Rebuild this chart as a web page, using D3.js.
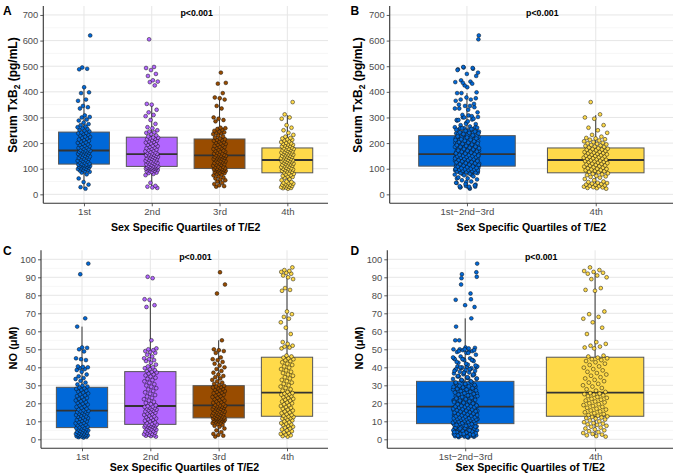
<!DOCTYPE html>
<html><head><meta charset="utf-8">
<script src="https://cdn.jsdelivr.net/npm/d3@7"></script>
<style>
html,body{margin:0;padding:0;background:#fff;}
svg{display:block;font-family:"Liberation Sans",Arial,Helvetica,sans-serif;}
</style></head>
<body>
<svg id="chart" width="676" height="476"></svg>
<script>
// ---------------- DATA ----------------
const quartileCats = ["1st", "2nd", "3rd", "4th"];
const mergedCats = ["1st\u22122nd\u22123rd", "4th"];

// Serum TxB2 (pg/mL) by sex-specific quartile of T/E2
const txb2Q1 = [22,28,38,48,62,78,85,88,90,93,95,97,99,100,102,104,105,107,108,110,111,112,113,114,115,116,117,
  119,120,124,125,128,130,131,134,136,139,140,142,145,146,148,150,152,155,156,158,160,161,163,165,166,168,169,170,
  172,173,176,178,181,183,184,188,190,193,195,198,201,203,206,209,212,214,218,221,224,226,230,233,236,238,240,242,
  246,249,252,255,258,262,265,270,274,280,288,292,300,302,308,335,340,345,365,370,395,398,418,488,490,495,620];
const txb2Q2 = [25,27,30,33,45,75,80,83,85,88,90,92,94,95,97,98,99,100,101,102,103,104,105,106,107,108,108,
  110,112,113,115,117,119,120,122,124,126,128,129,131,133,135,137,139,140,142,144,146,147,149,150,152,153,155,156,
  158,160,162,164,166,168,171,173,175,178,180,183,185,188,190,193,196,199,202,205,207,210,212,215,217,219,221,222,
  226,230,235,240,242,245,250,258,262,275,290,305,310,320,330,350,353,425,438,440,445,462,470,485,493,497,605];
const txb2Q3 = [30,32,35,40,45,50,55,58,62,66,70,74,77,80,83,85,87,89,91,92,94,95,96,97,98,99,100,
  102,103,106,108,109,112,115,116,118,121,122,125,126,129,130,133,134,137,138,140,141,143,145,146,148,149,150,151,
  153,154,157,159,160,163,166,167,170,171,175,177,180,182,185,186,189,192,194,197,199,202,204,207,209,212,213,215,
  218,222,226,230,235,238,240,242,245,248,252,255,258,260,285,290,295,300,335,345,370,375,378,395,432,435,475];
const txb2Q4 = [22,24,25,27,28,30,32,33,35,37,38,40,42,44,45,48,50,55,60,65,68,70,72,75,78,80,82,
  86,88,90,92,94,95,97,99,100,102,104,106,108,110,112,113,115,117,119,120,122,124,126,127,129,130,132,133,
  135,137,138,140,141,143,145,146,148,150,151,153,155,156,158,160,161,163,165,166,168,170,172,174,175,177,178,180,
  183,185,187,189,191,193,195,197,199,201,204,207,210,213,215,218,220,225,232,240,250,260,270,295,300,312,360];

// NO (µM) by sex-specific quartile of T/E2
const noQ1 = [1.0,1.2,1.4,1.5,1.7,1.9,2.0,2.2,2.4,2.5,2.7,2.9,3.0,3.3,3.5,3.7,4.0,4.2,4.5,4.7,5.0,5.2,5.5,5.7,6.0,6.2,6.4,
  6.7,7.0,7.4,7.8,8.1,8.5,8.9,9.2,9.6,10.0,10.3,10.7,11.0,11.4,11.8,12.1,12.5,12.8,13.2,13.5,13.9,14.2,14.5,14.8,15.1,15.4,15.6,15.8,
  16.2,16.6,17.0,17.5,18.0,18.4,18.9,19.3,19.8,20.2,20.7,21.2,21.6,22.1,22.6,23.0,23.5,24.0,24.5,25.0,25.5,26.0,26.5,27.0,27.5,28.0,28.4,28.8,
  29.3,29.8,30.5,31.5,32.5,33.5,34.0,35.0,36.0,37.5,38.5,39.0,39.5,40.0,40.2,40.5,44.0,44.5,45.0,48.8,50.0,50.8,51.0,62.6,67.2,91.7,97.6];
const noQ2 = [1.5,1.8,2.0,2.3,2.5,2.8,3.0,3.4,3.7,4.0,4.3,4.6,5.0,5.3,5.6,5.9,6.2,6.5,6.8,7.0,7.2,7.4,7.6,7.8,8.0,8.1,8.2,
  8.6,9.0,9.4,9.9,10.3,10.8,11.2,11.6,12.0,12.4,12.8,13.2,13.6,14.0,14.4,14.8,15.2,15.5,15.9,16.2,16.5,16.8,17.1,17.4,17.7,18.0,18.2,18.4,
  18.9,19.5,20.2,20.8,21.5,22.3,23.0,23.8,24.6,25.3,26.1,26.9,27.7,28.4,29.2,29.9,30.6,31.4,32.2,32.9,33.6,34.2,34.9,35.5,36.1,36.6,37.1,37.5,
  38.0,38.5,39.0,39.5,40.0,40.5,41.5,42.5,43.5,44.0,44.5,45.0,46.0,47.0,48.0,48.5,49.0,49.5,50.0,50.5,55.0,73.5,74.5,77.5,77.8,89.5,90.3];
const noQ3 = [1.5,2.0,2.5,3.0,4.0,5.0,6.0,7.0,7.5,8.0,8.5,9.0,9.3,9.6,9.9,10.1,10.3,10.5,10.7,10.9,11.0,11.2,11.3,11.5,11.6,11.7,11.8,
  12.1,12.3,12.6,12.8,13.0,13.3,13.5,13.8,14.0,14.3,14.6,14.8,15.1,15.4,15.6,15.9,16.2,16.5,16.8,17.0,17.3,17.6,17.8,18.0,18.2,18.4,18.6,18.8,
  19.1,19.5,19.9,20.3,20.7,21.1,21.5,21.9,22.3,22.7,23.1,23.5,24.0,24.4,24.8,25.2,25.6,26.0,26.4,26.8,27.2,27.6,28.0,28.4,28.8,29.1,29.4,29.7,
  30.2,30.8,31.5,32.2,33.0,33.8,34.5,35.2,36.0,37.0,38.0,39.0,40.0,41.0,42.0,43.0,44.0,44.5,45.5,48.0,49.0,49.5,50.0,55.0,81.0,86.0,92.8];
const noQ4 = [1.5,1.8,2.2,2.6,3.0,3.5,4.0,4.5,5.0,5.5,6.0,6.5,7.0,7.5,8.0,8.3,8.7,9.0,9.5,10.0,10.5,11.0,11.5,11.8,12.1,12.4,12.7,
  13.1,13.5,14.0,14.5,15.0,15.5,16.0,16.5,17.0,17.5,18.0,18.5,19.0,19.5,20.0,20.5,21.0,21.5,22.0,22.5,23.0,23.5,24.0,24.4,24.8,25.1,25.4,25.7,
  26.3,27.0,27.8,28.5,29.3,30.0,30.8,31.5,32.3,33.0,33.8,34.5,35.3,36.0,36.8,37.5,38.3,39.0,39.8,40.5,41.3,42.0,42.8,43.5,44.0,44.5,45.0,45.4,
  46.0,46.5,50.5,51.0,51.5,52.0,53.0,54.0,58.5,62.0,65.0,67.0,68.0,69.5,71.0,82.5,83.0,84.0,89.0,90.0,91.0,92.0,92.5,93.0,93.5,94.0,95.5];

// Box statistics: [lower whisker, Q1, median, Q3, upper whisker]
const txb2Stats4 = [[22,118,171,243,418],[25,109,157,223,353],[30,101,152,216,375],[22,84,134,181,309]];
const txb2Stats2 = [[22,110,157,229,395],[22,84,134,181,309]];
const noStats4 = [[1.0,6.5,15.9,28.9,62.6],[1.5,8.3,18.5,37.6,77.8],[1.5,11.9,18.9,29.8,55.0],[1.5,12.8,25.9,45.6,91.0]];
const noStats2 = [[1.0,8.7,18.1,32.2,67.2],[1.5,12.8,25.9,45.6,93.0]];

const txb2Ticks = [0,100,200,300,400,500,600,700];
const noTicks = [0,10,20,30,40,50,60,70,80,90,100];
const pLabel = "p<0.001";
const xTitle = "Sex Specific Quartiles of T/E2";

// ---------------- STYLE ----------------
const C_BLUE = "#0068D8", C_PURPLE = "#B266FF", C_BROWN = "#994C00", C_YELLOW = "#FFDA4A";

const panels = [
  {label:"A", x0:43.3, x1:328, y0:6, y1:203.3, dom:[-35,735], ticks:txb2Ticks, minorStep:50,
   cats:quartileCats, groups:[txb2Q1,txb2Q2,txb2Q3,txb2Q4], stats:txb2Stats4,
   colors:[C_BLUE,C_PURPLE,C_BROWN,C_YELLOW], yt:"txb", ytx:13, ytc:95, xto:27.2, lx:3, ly:15},
  {label:"B", x0:389.7, x1:673, y0:6, y1:203.3, dom:[-35,735], ticks:txb2Ticks, minorStep:50,
   cats:mergedCats, groups:[txb2Q1.concat(txb2Q2, txb2Q3), txb2Q4], stats:txb2Stats2,
   colors:[C_BLUE,C_YELLOW], yt:"txb", ytx:358, ytc:95, xto:27.2, lx:350.5, ly:15},
  {label:"C", x0:41, x1:328, y0:250.3, y1:448.3, dom:[-5,105], ticks:noTicks, minorStep:5,
   cats:quartileCats, groups:[noQ1,noQ2,noQ3,noQ4], stats:noStats4,
   colors:[C_BLUE,C_PURPLE,C_BROWN,C_YELLOW], yt:"no", ytx:13, ytc:348, xto:22.4, lx:3, ly:254.5},
  {label:"D", x0:387.3, x1:673, y0:250.3, y1:448.3, dom:[-5,105], ticks:noTicks, minorStep:5,
   cats:mergedCats, groups:[noQ1.concat(noQ2, noQ3), noQ4], stats:noStats2,
   colors:[C_BLUE,C_YELLOW], yt:"no", ytx:358.5, ytc:348, xto:22.4, lx:350.5, ly:254.5}
];

const svg = d3.select("#chart");

panels.forEach(p => {
  const g = svg.append("g");
  const y = d3.scaleLinear().domain(p.dom).range([p.y1, p.y0]);
  const x = d3.scalePoint().domain(p.cats).range([p.x0, p.x1]).padding(0.6);
  const step = x.step();

  // minor grid
  const minor = d3.range(p.ticks[0] + p.minorStep, p.ticks[p.ticks.length-1], p.minorStep * 2);
  g.append("g").selectAll("line").data(minor).join("line")
    .attr("x1", p.x0).attr("x2", p.x1).attr("y1", d => y(d)).attr("y2", d => y(d))
    .attr("stroke", "#F0F0F0").attr("stroke-width", 0.6);
  // major grid
  g.append("g").selectAll("line").data(p.ticks).join("line")
    .attr("x1", p.x0).attr("x2", p.x1).attr("y1", d => y(d)).attr("y2", d => y(d))
    .attr("stroke", "#E6E6E6").attr("stroke-width", 1);
  g.append("g").selectAll("line").data(p.cats).join("line")
    .attr("x1", d => x(d)).attr("x2", d => x(d)).attr("y1", p.y0).attr("y2", p.y1)
    .attr("stroke", "#E6E6E6").attr("stroke-width", 1);

  // boxes
  const bw = step * 0.75;
  p.cats.forEach((c, i) => {
    const s = p.stats[i];
    const cx = x(c);
    const bg = g.append("g");
    bg.append("line").attr("x1", cx).attr("x2", cx).attr("y1", y(s[3])).attr("y2", y(s[4]))
      .attr("stroke", "#333").attr("stroke-width", 1);
    bg.append("line").attr("x1", cx).attr("x2", cx).attr("y1", y(s[1])).attr("y2", y(s[0]))
      .attr("stroke", "#333").attr("stroke-width", 1);
    bg.append("rect").attr("x", cx - bw/2).attr("width", bw)
      .attr("y", y(s[3])).attr("height", y(s[1]) - y(s[3]))
      .attr("fill", p.colors[i]).attr("stroke", "#555").attr("stroke-width", 1);
    bg.append("line").attr("x1", cx - bw/2).attr("x2", cx + bw/2).attr("y1", y(s[2])).attr("y2", y(s[2]))
      .attr("stroke", "#333").attr("stroke-width", 1.8);
  });

  // jittered points (deterministic low-discrepancy jitter)
  p.cats.forEach((c, i) => {
    const cx = x(c);
    const vals = p.groups[i];
    g.append("g").selectAll("circle").data(vals).join("circle")
      .attr("cx", (d, k) => cx + ((((k + 1) * 0.6180339887 + i * 0.31) % 1) - 0.5) * 2 * 0.095 * step)
      .attr("cy", d => y(d))
      .attr("r", 1.9)
      .attr("fill", p.colors[i])
      .attr("stroke", "#111").attr("stroke-width", 0.5);
  });

  // axes
  const yAxis = d3.axisLeft(y).tickValues(p.ticks).tickSize(3).tickPadding(2);
  const ya = g.append("g").attr("transform", `translate(${p.x0},0)`).call(yAxis);
  ya.select(".domain").attr("d", `M0,${p.y0}V${p.y1}`).attr("stroke", "#333").attr("stroke-width", 1.1);
  ya.selectAll(".tick line").attr("stroke", "#333").attr("stroke-width", 0.8);
  ya.selectAll(".tick text").attr("fill", "#4D4D4D").attr("font-size", 9.4)
    .attr("font-family", "Liberation Sans, Arial, sans-serif");

  const xAxis = d3.axisBottom(x).tickSize(3).tickPadding(2);
  const xa = g.append("g").attr("transform", `translate(0,${p.y1})`).call(xAxis);
  xa.select(".domain").attr("d", `M${p.x0},0H${p.x1}`).attr("stroke", "#333").attr("stroke-width", 1.1);
  xa.selectAll(".tick line").attr("stroke", "#333").attr("stroke-width", 0.8);
  xa.selectAll(".tick text").attr("fill", "#4D4D4D").attr("font-size", 9.6)
    .attr("font-family", "Liberation Sans, Arial, sans-serif");

  // x title
  g.append("text").attr("x", (p.x0 + p.x1) / 2).attr("y", p.y1 + p.xto)
    .attr("text-anchor", "middle").attr("font-size", 10.6).attr("font-weight", "bold")
    .attr("fill", "#000").text(xTitle);

  // y title
  const yt = g.append("text").attr("transform", `translate(${p.ytx + 4},${p.ytc}) rotate(-90)`)
    .attr("text-anchor", "middle").attr("font-weight", "bold").attr("fill", "#000");
  if (p.yt === "txb") {
    yt.attr("font-size", 12);
    yt.append("tspan").text("Serum TxB");
    yt.append("tspan").attr("font-size", 8.5).attr("dy", 2.8).text("2");
    yt.append("tspan").attr("dy", -2.8).text(" (pg/mL)");
  } else {
    yt.attr("font-size", 11).text("NO (\u03BCM)");
  }

  // p-value
  g.append("text").attr("x", (p.x0 + p.x1) / 2 + 11).attr("y", y(p.ticks[p.ticks.length-1]) + 1)
    .attr("text-anchor", "middle").attr("font-size", 8.8).attr("font-weight", "bold")
    .attr("fill", "#000").text(pLabel);

  // panel label
  g.append("text").attr("x", p.lx).attr("y", p.ly)
    .attr("font-size", 12).attr("font-weight", "bold").attr("fill", "#000").text(p.label);
});
</script>
</body></html>
